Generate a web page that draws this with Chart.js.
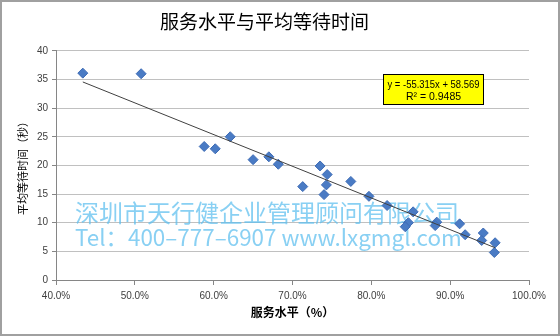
<!DOCTYPE html>
<html>
<head>
<meta charset="utf-8">
<script src="https://cdn.jsdelivr.net/npm/chart.js@4"></script>
<style>
  html, body { margin: 0; padding: 0; background: #ffffff; }
  #wrap { width: 560px; height: 336px; position: relative; }
</style>
</head>
<body>
<div id="wrap"><canvas id="c" width="560" height="336"></canvas></div>
<script>
// Service level (fraction) vs. average waiting time (seconds)
const serviceLevel = [0.434, 0.508, 0.588, 0.602, 0.621, 0.650, 0.670, 0.682, 0.713,
  0.735, 0.744, 0.743, 0.740, 0.774, 0.797, 0.820, 0.853, 0.847, 0.843,
  0.883, 0.881, 0.912, 0.919, 0.942, 0.940, 0.957, 0.956];
const waitTime = [36.1, 36.0, 23.3, 22.9, 25.0, 21.0, 21.5, 20.2, 16.3,
  19.9, 18.4, 16.6, 14.9, 17.2, 14.6, 13.0, 11.9, 10.0, 9.3,
  10.1, 9.5, 9.8, 7.9, 8.2, 6.9, 6.5, 4.8];

// Linear trend fit
const slope = -55.315;
const intercept = 58.569;
const rSquared = 0.9485;

const xTicks = { min: 0.4, max: 1.0, step: 0.1 };
const yTicks = { min: 0, max: 40, step: 5 };

const points = serviceLevel.map((x, i) => ({ x: x, y: waitTime[i] }));
const xLo = Math.min(...serviceLevel), xHi = Math.max(...serviceLevel);
const trend = [xLo, xHi].map(x => ({ x: x, y: slope * x + intercept }));

const tickFont = { family: '"Liberation Sans", sans-serif', size: 10 };
const cjk = '"Noto Sans CJK SC", sans-serif';

const decor = {
  id: 'decor',
  beforeDatasetsDraw(chart) {
    const ctx = chart.ctx;
    ctx.save();
    ctx.fillStyle = 'rgba(92,190,238,0.72)';
    ctx.textBaseline = 'middle';
    ctx.textAlign = 'left';
    const line1 = '深圳市天行健企业管理顾问有限公司';
    const line2 = 'Tel：400–777–6907 www.lxgmgl.com';
    const fit = (txt, w, weight) => {
      ctx.font = weight + ' 24px ' + cjk;
      const m = ctx.measureText(txt).width;
      ctx.font = weight + ' ' + (24 * w / m).toFixed(2) + 'px ' + cjk;
    };
    fit(line1, 384, 400);
    ctx.fillText(line1, 75, 213);
    fit(line2, 387, 400);
    ctx.fillText(line2, 75, 237);
    ctx.restore();
  },
  afterDatasetsDraw(chart) {
    const ctx = chart.ctx;
    ctx.save();
    const bx = 383.5, by = 74.5, bw = 100, bh = 30;
    ctx.fillStyle = '#ffff00';
    ctx.fillRect(bx, by, bw, bh);
    ctx.strokeStyle = '#000000';
    ctx.lineWidth = 1;
    ctx.strokeRect(bx, by, bw, bh);
    ctx.fillStyle = '#000000';
    ctx.font = '10.5px "Liberation Sans", sans-serif';
    ctx.textAlign = 'center';
    ctx.textBaseline = 'middle';
    const sign = intercept >= 0 ? '+ ' : '- ';
    ctx.fillText('y = ' + slope.toFixed(3) + 'x ' + sign + Math.abs(intercept).toFixed(3), bx + bw / 2, 85, 92);
    ctx.fillText('R² = ' + rSquared.toFixed(4), bx + bw / 2, 97, 92);
    ctx.restore();
  },
  afterDraw(chart) {
    const ctx = chart.ctx;
    ctx.save();
    ctx.strokeStyle = '#a0a0a0';
    ctx.lineWidth = 2;
    ctx.strokeRect(1, 1, chart.width - 2, chart.height - 2);
    ctx.restore();
  }
};

new Chart(document.getElementById('c'), {
  type: 'scatter',
  data: {
    datasets: [
      {
        label: '线性趋势',
        data: trend,
        showLine: true,
        borderColor: '#404040',
        borderWidth: 1,
        pointRadius: 0,
        fill: false
      },
      {
        label: '等待时间',
        data: points,
        pointStyle: 'rectRot',
        pointRadius: 5,
        backgroundColor: '#4a7bc4',
        borderColor: '#3d6bb5',
        borderWidth: 1
      }
    ]
  },
  plugins: [decor],
  options: {
    responsive: false,
    animation: false,
    layout: { padding: { top: 0, right: 31, left: 0, bottom: 0 } },
    plugins: {
      legend: { display: false },
      tooltip: { enabled: false },
      title: {
        display: true,
        text: '服务水平与平均等待时间',
        color: '#000000',
        font: { family: cjk, size: 19, weight: 'normal' },
        padding: { top: 10, bottom: 18 }
      }
    },
    scales: {
      x: {
        type: 'linear',
        min: xTicks.min,
        max: xTicks.max,
        afterFit(s) { s.height = 56; },
        ticks: {
          stepSize: xTicks.step,
          color: '#404040',
          font: tickFont,
          padding: 5,
          maxRotation: 0,
          callback: v => (v * 100).toFixed(1) + '%'
        },
        grid: { drawOnChartArea: false, drawTicks: true, tickLength: 5, tickColor: '#868686' },
        border: { display: true, color: '#868686' },
        title: {
          display: true,
          text: '服务水平（%）',
          color: '#000000',
          font: { family: cjk, size: 12, weight: 'bold' },
          padding: { top: 0, bottom: 16 }
        }
      },
      y: {
        type: 'linear',
        min: yTicks.min,
        max: yTicks.max,
        afterFit(s) { s.width = 56; },
        ticks: {
          stepSize: yTicks.step,
          color: '#404040',
          font: tickFont,
          padding: 4
        },
        grid: { color: '#c0c0c0', tickColor: '#868686', tickLength: 4 },
        border: { display: true, color: '#868686' },
        title: {
          display: true,
          text: '平均等待时间（秒）',
          color: '#000000',
          font: { family: cjk, size: 11, weight: 'normal' },
          padding: { top: 16, bottom: 0 }
        }
      }
    }
  }
});
</script>
</body>
</html>
